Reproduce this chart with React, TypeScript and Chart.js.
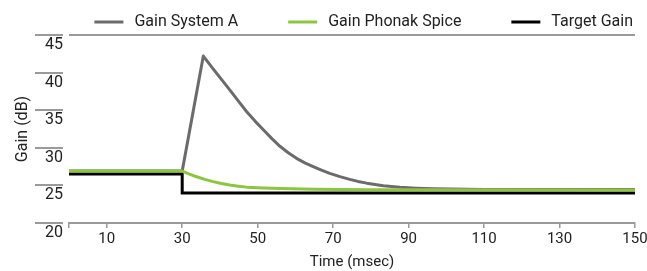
import React, { useEffect, useRef } from "react";
import { Chart, registerables } from "chart.js";

Chart.register(...registerables);

// ---- data ----
const seriesLabels = ["Gain System A", "Gain Phonak Spice", "Target Gain"];
const seriesColors = ["#6b6b6b", "#8cc63f", "#000000"];

const systemATime = [0, 30, 35.6, 38.2, 40.4, 42.6, 44.9, 47.1, 49.3, 51.5, 53.7, 55.9, 58.1, 60.3, 62.5, 64.7, 66.9, 69.1, 71.8, 74.4, 76.6, 78.9, 83.3, 87.7, 92, 96.5, 110, 150];
const systemAGain = [26.9, 26.9, 42.2, 40.5, 39.1, 37.7, 36.2, 34.8, 33.55, 32.4, 31.25, 30.2, 29.35, 28.6, 28.0, 27.5, 27.02, 26.6, 26.17, 25.8, 25.53, 25.3, 24.95, 24.75, 24.63, 24.55, 24.45, 24.45];

const phonakTime = [0, 30, 31.9, 33.8, 36, 38.2, 40.4, 42.6, 44.9, 47.1, 51.5, 55.9, 65, 80, 150];
const phonakGain = [26.9, 26.9, 26.5, 26.15, 25.8, 25.5, 25.25, 25.05, 24.9, 24.77, 24.66, 24.58, 24.48, 24.43, 24.4];

const targetTime = [0, 30, 30, 150];
const targetGain = [26.5, 26.5, 24.0, 24.0];

const xTickValues = [0, 10, 30, 50, 70, 90, 110, 130, 150];
const yMin = 20;
const yMax = 45;
const yStep = 5;

const FONT = "Roboto";

const toPoints = (xs: number[], ys: number[]) => xs.map((x, i) => ({ x, y: ys[i] }));

const decorPlugin = {
  id: "decor",
  afterDraw(chart: any) {
    const ctx = chart.ctx;
    const area = chart.chartArea;
    const yScale = chart.scales.y;
    ctx.save();
    // short y tick marks left of labels
    ctx.strokeStyle = "#9a9a9a";
    ctx.lineWidth = 2;
    yScale.ticks.forEach((t: any) => {
      const py = Math.round(yScale.getPixelForValue(t.value));
      ctx.beginPath();
      ctx.moveTo(area.left - 34, py);
      ctx.lineTo(area.left - 6, py);
      ctx.stroke();
    });
    // custom legend, right aligned
    ctx.font = `16px ${FONT}`;
    ctx.textBaseline = "middle";
    ctx.textAlign = "left";
    const cy = 22;
    let end = area.right - 2;
    const items = chart.data.datasets.map((d: any) => ({ label: d.label, color: d.borderColor }));
    for (let i = items.length - 1; i >= 0; i--) {
      const w = ctx.measureText(items[i].label).width;
      const textStart = end - w;
      const lineEnd = textStart - 11;
      const lineStart = lineEnd - 29;
      ctx.fillStyle = "#222";
      ctx.fillText(items[i].label, textStart, cy);
      ctx.strokeStyle = items[i].color;
      ctx.lineWidth = 3;
      ctx.beginPath();
      ctx.moveTo(lineStart, cy);
      ctx.lineTo(lineEnd, cy);
      ctx.stroke();
      end = lineStart - 50;
    }
    ctx.restore();
  },
};

export default function App() {
  const ref = useRef<HTMLCanvasElement>(null);
  useEffect(() => {
    if (!ref.current) return;
    const chart = new Chart(ref.current, {
      type: "line",
      data: {
        datasets: [
          {
            label: seriesLabels[0],
            data: toPoints(systemATime, systemAGain),
            borderColor: seriesColors[0],
            borderWidth: 3,
            pointRadius: 0,
            tension: 0,
            borderJoinStyle: "round",
            order: 2,
          },
          {
            label: seriesLabels[1],
            data: toPoints(phonakTime, phonakGain),
            borderColor: seriesColors[1],
            borderWidth: 3,
            pointRadius: 0,
            tension: 0,
            borderJoinStyle: "round",
            order: 1,
          },
          {
            label: seriesLabels[2],
            data: toPoints(targetTime, targetGain),
            borderColor: seriesColors[2],
            borderWidth: 3,
            pointRadius: 0,
            tension: 0,
            order: 3,
          },
        ],
      },
      options: {
        responsive: false,
        animation: false,
        layout: { padding: { left: 0, right: 12, top: 35, bottom: 0 } },
        plugins: { legend: { display: false }, tooltip: { enabled: false } },
        scales: {
          x: {
            type: "linear",
            min: 0,
            max: 150,
            afterBuildTicks: (s: any) => {
              s.ticks = xTickValues.map((v) => ({ value: v }));
            },
            afterFit: (s: any) => {
              s.height = 48;
              s.paddingLeft = 0;
              s.paddingRight = 0;
            },
            border: { display: true, color: "#9a9a9a", width: 2 },
            grid: { drawOnChartArea: false, drawTicks: true, tickLength: 5, tickColor: "#9a9a9a", lineWidth: 1.5 },
            ticks: {
              autoSkip: false,
              maxRotation: 0,
              padding: 2,
              color: "#222",
              font: { family: FONT, size: 15 },
              callback: (v: any) => (v === 0 ? "" : String(v)),
            },
            title: {
              display: true,
              text: "Time (msec)",
              color: "#222",
              font: { family: FONT, size: 15, lineHeight: 1 },
              padding: 1,
            },
          },
          y: {
            min: yMin,
            max: yMax,
            afterFit: (s: any) => {
              s.width = 69;
              s.paddingTop = 0;
              s.paddingBottom = 0;
            },
            border: { display: false },
            grid: {
              drawTicks: false,
              color: (c: any) => (c.tick && c.tick.value === yMax ? "#9a9a9a" : "rgba(0,0,0,0)"),
              lineWidth: 2,
            },
            ticks: {
              stepSize: yStep,
              padding: 6,
              labelOffset: 10,
              color: "#222",
              font: { family: FONT, size: 16 },
            },
            title: {
              display: true,
              text: "Gain (dB)",
              color: "#222",
              font: { family: FONT, size: 16, lineHeight: 1 },
              padding: 15,
            },
          },
        },
      },
      plugins: [decorPlugin],
    });
    return () => chart.destroy();
  }, []);
  return (
    <div style={{ position: "fixed", left: 0, top: 0, width: 647, height: 271, background: "#fff" }}>
      <canvas ref={ref} width={647} height={271} style={{ display: "block" }} />
    </div>
  );
}
